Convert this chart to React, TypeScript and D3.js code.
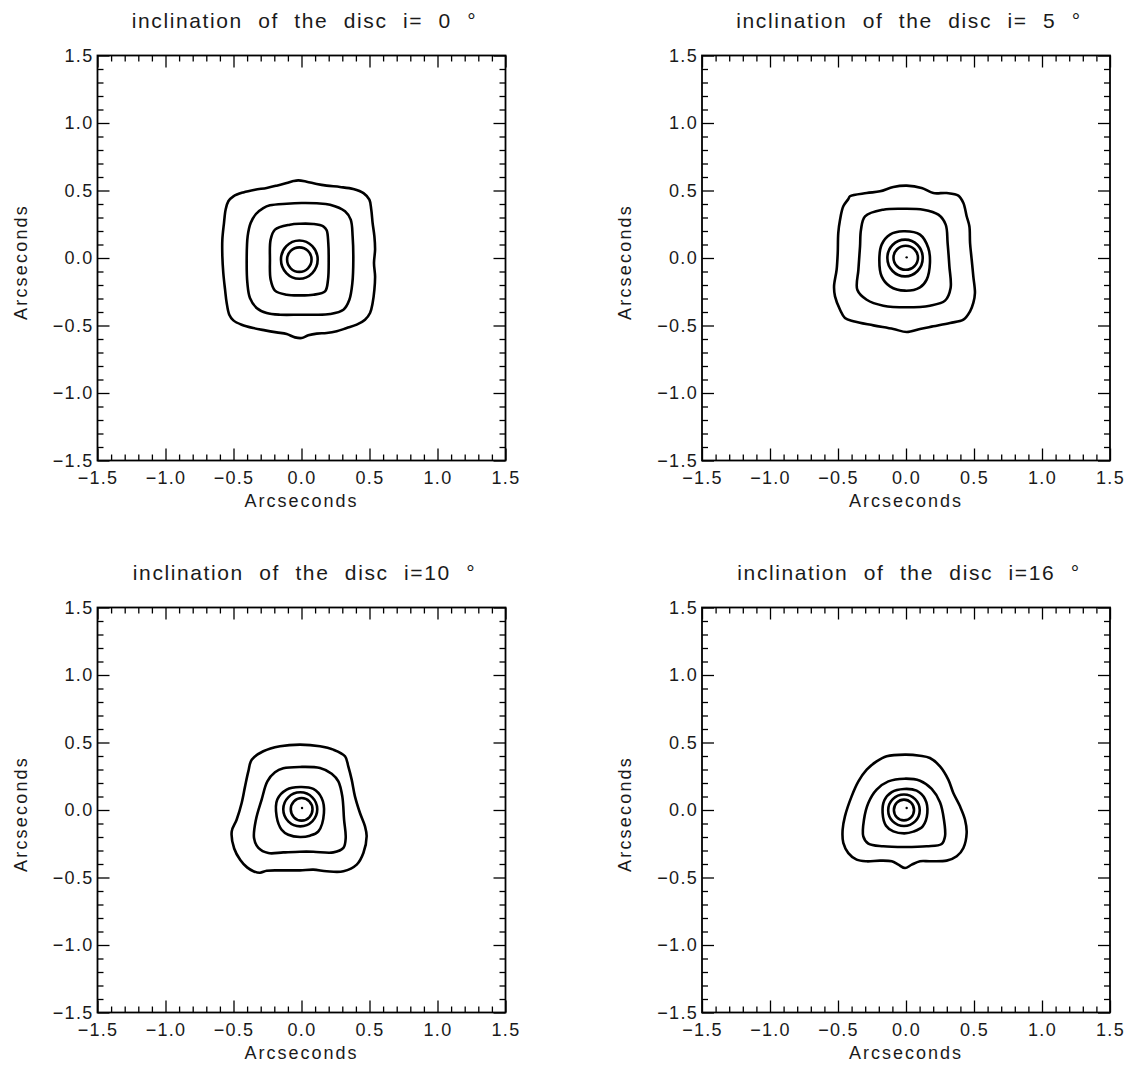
import React, { useRef, useEffect } from 'react'
import {
    select,
    scaleLinear,
    axisBottom,
    axisTop,
    axisLeft,
    axisRight,
    line,
    curveCatmullRomClosed,
    format,
} from 'd3'

// panel titles, one per disc inclination
const titles = [
    'inclination of the disc i= 0 °',
    'inclination of the disc i= 5 °',
    'inclination of the disc i=10 °',
    'inclination of the disc i=16 °',
]

const majorTicks = [-1.5, -1.0, -0.5, 0.0, 0.5, 1.0, 1.5]
const minorTicks = [-1.4, -1.3, -1.2, -1.1, -0.9, -0.8, -0.7, -0.6, -0.4, -0.3, -0.2, -0.1,
    0.1, 0.2, 0.3, 0.4, 0.6, 0.7, 0.8, 0.9, 1.1, 1.2, 1.3, 1.4]

// contour lines, in arcseconds [x, y]
// i = 0
const outer0 = [[-0.023, 0.575], [0.038, 0.565], [0.112, 0.548], [0.185, 0.536], [0.283, 0.526], [0.381, 0.511],
    [0.456, 0.481], [0.499, 0.432], [0.513, 0.358], [0.523, 0.259], [0.536, 0.160], [0.541, 0.062],
    [0.533, -0.037], [0.541, -0.136], [0.536, -0.235], [0.523, -0.333], [0.504, -0.407], [0.467, -0.457],
    [0.406, -0.494], [0.332, -0.519], [0.259, -0.543], [0.185, -0.556], [0.112, -0.560], [0.050, -0.573],
    [0.001, -0.593], [-0.048, -0.588], [-0.109, -0.563], [-0.183, -0.551], [-0.268, -0.536], [-0.354, -0.519],
    [-0.440, -0.494], [-0.501, -0.462], [-0.531, -0.420], [-0.550, -0.333], [-0.562, -0.235], [-0.575, -0.111],
    [-0.582, 0.012], [-0.582, 0.136], [-0.570, 0.259], [-0.558, 0.358], [-0.538, 0.420], [-0.501, 0.457],
    [-0.428, 0.486], [-0.342, 0.506], [-0.256, 0.519], [-0.183, 0.536], [-0.109, 0.556], [-0.060, 0.570]]
const middle0 = [[0.001, 0.407], [0.112, 0.405], [0.21, 0.395], [0.32, 0.346], [0.362, 0.284], [0.376, 0.16],
    [0.381, -0.012], [0.374, -0.185], [0.352, -0.309], [0.308, -0.383], [0.21, -0.415], [0.087, -0.42],
    [-0.011, -0.42], [-0.158, -0.42], [-0.256, -0.407], [-0.33, -0.37], [-0.379, -0.296], [-0.398, -0.185],
    [-0.403, -0.012], [-0.396, 0.16], [-0.374, 0.259], [-0.335, 0.326], [-0.281, 0.37], [-0.232, 0.39],
    [-0.109, 0.402]]
const inner0 = [[-0.011, 0.254], [0.087, 0.252], [0.16, 0.235], [0.185, 0.205], [0.197, 0.111], [0.2, -0.012],
    [0.195, -0.16], [0.173, -0.247], [0.087, -0.272], [-0.011, -0.277], [-0.109, -0.272], [-0.195, -0.242],
    [-0.227, -0.16], [-0.232, -0.012], [-0.227, 0.136], [-0.195, 0.21], [-0.085, 0.247]]
// [cx, cy, rx, ry]
const rings0 = [[-0.016, -0.012, 0.09, 0.091], [-0.016, -0.012, 0.135, 0.142]]

// i = 5
const outer5 = [[0.005, 0.536], [0.115, 0.519], [0.201, 0.481], [0.299, 0.481], [0.385, 0.462], [0.422, 0.407],
    [0.446, 0.309], [0.466, 0.235], [0.471, 0.111], [0.483, -0.012], [0.495, -0.136], [0.507, -0.259],
    [0.495, -0.333], [0.471, -0.395], [0.422, -0.457], [0.324, -0.481], [0.201, -0.506], [0.103, -0.526],
    [0.005, -0.548], [-0.093, -0.526], [-0.240, -0.499], [-0.387, -0.469], [-0.449, -0.444], [-0.485, -0.383],
    [-0.522, -0.284], [-0.529, -0.210], [-0.510, -0.086], [-0.502, 0.037], [-0.498, 0.185], [-0.485, 0.284],
    [-0.461, 0.383], [-0.424, 0.437], [-0.412, 0.457], [-0.289, 0.481], [-0.191, 0.494], [-0.093, 0.526]]
const middle5 = [[-0.020, 0.365], [0.127, 0.358], [0.238, 0.321], [0.292, 0.247], [0.306, 0.111], [0.319, -0.062],
    [0.328, -0.222], [0.287, -0.316], [0.176, -0.353], [0.005, -0.365], [-0.167, -0.353], [-0.289, -0.309],
    [-0.358, -0.235], [-0.350, -0.086], [-0.338, 0.086], [-0.331, 0.210], [-0.301, 0.309], [-0.167, 0.358]]
const inner5 = [[-0.02, 0.198], [0.103, 0.173], [0.164, 0.074], [0.176, -0.037], [0.152, -0.160], [0.103, -0.217],
    [-0.007, -0.242], [-0.118, -0.210], [-0.179, -0.136], [-0.196, -0.012], [-0.179, 0.099], [-0.118, 0.173]]
const rings5 = [[-0.002, 0.002, 0.09, 0.089], [-0.007, 0.0, 0.13, 0.136]]

// i = 10
const outer10 = [[-0.011, 0.484], [0.136, 0.472], [0.234, 0.447], [0.320, 0.398], [0.344, 0.323], [0.369, 0.225],
    [0.393, 0.101], [0.430, -0.022], [0.467, -0.121], [0.479, -0.195], [0.455, -0.319], [0.406, -0.405],
    [0.308, -0.454], [0.185, -0.454], [0.087, -0.442], [-0.011, -0.447], [-0.158, -0.447], [-0.256, -0.450],
    [-0.305, -0.465], [-0.350, -0.455], [-0.400, -0.425], [-0.450, -0.370], [-0.495, -0.285], [-0.513, -0.158],
    [-0.477, -0.072], [-0.440, 0.052], [-0.415, 0.175], [-0.391, 0.286], [-0.366, 0.373], [-0.281, 0.435],
    [-0.158, 0.472]]
const middle10 = [[-0.011, 0.319], [0.136, 0.311], [0.222, 0.269], [0.271, 0.212], [0.300, 0.101], [0.313, -0.072],
    [0.325, -0.207], [0.308, -0.281], [0.234, -0.314], [0.087, -0.309], [-0.011, -0.309], [-0.134, -0.314],
    [-0.244, -0.319], [-0.317, -0.281], [-0.349, -0.207], [-0.335, -0.072], [-0.293, 0.077], [-0.251, 0.212],
    [-0.195, 0.279], [-0.134, 0.309]]
const inner10 = [[-0.011, 0.170], [0.087, 0.156], [0.148, 0.089], [0.165, -0.022], [0.124, -0.158], [0.062, -0.190],
    [-0.011, -0.200], [-0.097, -0.183], [-0.146, -0.146], [-0.183, -0.047], [-0.178, 0.077], [-0.109, 0.151]]
const rings10 = [[0.001, 0.005, 0.08, 0.084], [-0.009, 0.005, 0.125, 0.126]]

// i = 16
const outer16 = [[-0.007, 0.410], [0.103, 0.402], [0.176, 0.385], [0.250, 0.323], [0.311, 0.225], [0.348, 0.126],
    [0.397, 0.027], [0.434, -0.072], [0.446, -0.170], [0.422, -0.281], [0.373, -0.343], [0.299, -0.375],
    [0.176, -0.380], [0.103, -0.380], [0.042, -0.405], [-0.007, -0.430], [-0.056, -0.405], [-0.105, -0.380],
    [-0.191, -0.375], [-0.289, -0.380], [-0.363, -0.368], [-0.424, -0.319], [-0.461, -0.244], [-0.466, -0.146],
    [-0.449, -0.047], [-0.400, 0.101], [-0.350, 0.212], [-0.289, 0.299], [-0.216, 0.360], [-0.142, 0.398]]
const middle16 = [[-0.012, 0.232], [0.103, 0.217], [0.189, 0.156], [0.250, 0.057], [0.279, -0.072], [0.287, -0.195],
    [0.262, -0.252], [0.152, -0.269], [-0.007, -0.274], [-0.167, -0.269], [-0.277, -0.249], [-0.314, -0.195],
    [-0.309, -0.072], [-0.277, 0.052], [-0.216, 0.151], [-0.130, 0.212]]
const inner16 = [[-0.015, 0.156], [0.078, 0.143], [0.140, 0.081], [0.157, -0.022], [0.123, -0.121], [0.054, -0.160],
    [-0.012, -0.173], [-0.093, -0.158], [-0.147, -0.116], [-0.172, -0.022], [-0.159, 0.072], [-0.105, 0.133]]
const rings16 = [[-0.015, 0.0, 0.074, 0.077], [-0.015, -0.002, 0.116, 0.117]]

// peak contour (tiny dot) in the three inclined cases
const peaks = [null, [0.005, 0.005], [0.004, 0.015], [0.005, 0.015]]

const contourSets = [
    [outer0, middle0, inner0],
    [outer5, middle5, inner5],
    [outer10, middle10, inner10],
    [outer16, middle16, inner16],
]
const ringSets = [rings0, rings5, rings10, rings16]

const FONT = '"Liberation Sans", Arial, sans-serif'

export default function App() {
    const svgRef = useRef<SVGSVGElement>(null)
    const width = 1126
    const height = 1070
    const panelW = 408
    const panelH = 405
    const colX = [97.5, 702]
    const rowY = [55.5, 607.5]

    useEffect(() => {
        draw()
    }, [])

    const draw = () => {
        const svg = select(svgRef.current)
        svg.selectAll('*').remove()

        titles.forEach((title, i) => {
            const x0 = colX[i % 2]
            const y0 = rowY[Math.floor(i / 2)]
            const xScale = scaleLinear().domain([-1.5, 1.5]).range([x0, x0 + panelW])
            const yScale = scaleLinear().domain([-1.5, 1.5]).range([y0 + panelH, y0])
            const g = svg.append('g').style('color', '#000')

            const fmt = format('.1f')
            const styleText = (sel) => sel.selectAll('text')
                .attr('font-family', FONT)
                .attr('font-size', 18)
                .attr('letter-spacing', 1.3)
                .attr('fill', '#1a1a1a')

            // major + minor ticks on all four sides, pointing inwards
            g.append('g').attr('transform', `translate(0,${y0 + panelH})`)
                .call(axisBottom(xScale).tickValues(majorTicks).tickSize(-12).tickPadding(10.5).tickFormat(fmt))
                .call(styleText)
            g.append('g').attr('transform', `translate(0,${y0 + panelH})`)
                .call(axisBottom(xScale).tickValues(minorTicks).tickSize(-6).tickFormat(() => ''))
            g.append('g').attr('transform', `translate(0,${y0})`)
                .call(axisTop(xScale).tickValues(majorTicks).tickSize(-12).tickFormat(() => ''))
            g.append('g').attr('transform', `translate(0,${y0})`)
                .call(axisTop(xScale).tickValues(minorTicks).tickSize(-6).tickFormat(() => ''))
            g.append('g').attr('transform', `translate(${x0},0)`)
                .call(axisLeft(yScale).tickValues(majorTicks).tickSize(-12).tickPadding(4).tickFormat(fmt))
                .call(styleText)
            g.append('g').attr('transform', `translate(${x0},0)`)
                .call(axisLeft(yScale).tickValues(minorTicks).tickSize(-6).tickFormat(() => ''))
            g.append('g').attr('transform', `translate(${x0 + panelW},0)`)
                .call(axisRight(yScale).tickValues(majorTicks).tickSize(-12).tickFormat(() => ''))
            g.append('g').attr('transform', `translate(${x0 + panelW},0)`)
                .call(axisRight(yScale).tickValues(minorTicks).tickSize(-6).tickFormat(() => ''))
            g.selectAll('.domain').remove()
            g.selectAll('.tick line').attr('stroke-width', 1.3)

            g.append('rect')
                .attr('x', x0).attr('y', y0)
                .attr('width', panelW).attr('height', panelH)
                .attr('fill', 'none').attr('stroke', '#000').attr('stroke-width', 1.8)

            // contours
            const path = line<number[]>()
                .x(d => xScale(d[0]))
                .y(d => yScale(d[1]))
                .curve(curveCatmullRomClosed.alpha(0.5))
            g.selectAll('path.contour')
                .data(contourSets[i])
                .join('path')
                .attr('class', 'contour')
                .attr('d', d => path(d))
                .attr('fill', 'none')
                .attr('stroke', '#000')
                .attr('stroke-width', 2.6)
                .attr('stroke-linejoin', 'round')
            g.selectAll('ellipse.ring')
                .data(ringSets[i])
                .join('ellipse')
                .attr('class', 'ring')
                .attr('cx', d => xScale(d[0]))
                .attr('cy', d => yScale(d[1]))
                .attr('rx', d => xScale(d[2]) - xScale(0))
                .attr('ry', d => yScale(0) - yScale(d[3]))
                .attr('fill', 'none')
                .attr('stroke', '#000')
                .attr('stroke-width', 2.6)
            const peak = peaks[i]
            if (peak) {
                g.append('circle')
                    .attr('cx', xScale(peak[0]))
                    .attr('cy', yScale(peak[1]))
                    .attr('r', 1.2)
                    .attr('fill', '#000')
            }

            // titles and axis names
            g.append('text')
                .attr('x', x0 + panelW / 2 + 3)
                .attr('y', y0 - 28)
                .attr('text-anchor', 'middle')
                .attr('font-family', FONT)
                .attr('font-size', 21)
                .attr('letter-spacing', 1.6)
                .attr('word-spacing', 8)
                .attr('fill', '#1a1a1a')
                .text(title)
            g.append('text')
                .attr('x', x0 + panelW / 2)
                .attr('y', y0 + panelH + 46)
                .attr('text-anchor', 'middle')
                .attr('font-family', FONT)
                .attr('font-size', 18)
                .attr('letter-spacing', 2)
                .attr('fill', '#1a1a1a')
                .text('Arcseconds')
            g.append('text')
                .attr('transform', `translate(${x0 - 71},${y0 + panelH / 2 + 4}) rotate(-90)`)
                .attr('text-anchor', 'middle')
                .attr('font-family', FONT)
                .attr('font-size', 18)
                .attr('letter-spacing', 2.2)
                .attr('fill', '#1a1a1a')
                .text('Arcseconds')
        })
    }

    return (
        <svg
            ref={svgRef}
            width={width}
            height={height}
            style={{ position: 'absolute', left: 0, top: 0, background: '#fff' }}
        />
    )
}
